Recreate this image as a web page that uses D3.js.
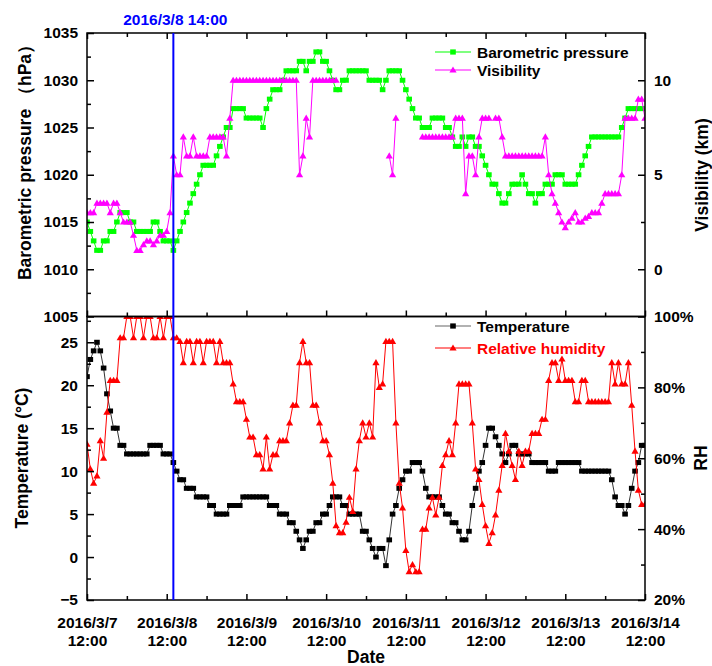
<!DOCTYPE html>
<html>
<head>
<meta charset="utf-8">
<script src="https://cdn.jsdelivr.net/npm/d3@7"></script>
<style>
  body { margin: 0; background: #fff; }
  text { font-family: "Liberation Sans", Arial, sans-serif; font-weight: bold; }
</style>
</head>
<body>
<div id="chart"></div>
<script>
// hourly readings from 2016/3/7 12:00 to 2016/3/14 12:00
const pressure = [
  1015,1014,1013,1012,1012,1013,1013,1014,1014,1015,1016,1016,
  1016,1015,1015,1014,1014,1014,1014,1014,1015,1015,1014,1013,
  1013,1013,1012,1013,1014,1015,1016,1017,1018,1019,1020,1021,
  1021,1021,1021,1022,1023,1024,1025,1025,1027,1027,1027,1027,
  1026,1026,1026,1026,1026,1025,1027,1028,1029,1029,1029,1030,
  1031,1031,1031,1031,1032,1032,1031,1032,1032,1033,1033,1032,
  1032,1031,1030,1029,1029,1030,1030,1031,1031,1031,1031,1031,
  1031,1030,1030,1030,1030,1029,1030,1031,1031,1031,1031,1030,
  1029,1028,1027,1026,1026,1025,1025,1025,1026,1026,1026,1026,
  1025,1025,1024,1023,1023,1024,1023,1024,1024,1023,1023,1022,
  1021,1020,1019,1019,1018,1017,1017,1018,1019,1019,1019,1020,
  1019,1018,1018,1017,1018,1018,1019,1019,1019,1020,1020,1020,
  1019,1019,1019,1019,1020,1021,1022,1023,1024,1024,1024,1024,
  1024,1024,1024,1024,1024,1025,1026,1027,1027,1027,1027,1027,
  1027
];

const visibility = [
  3,3,3,3.5,3.5,3.5,3.5,3,3.5,3.5,3,2.5,
  2.5,2.5,1.8,1,1,1.3,1.5,1.5,1.3,1.5,1.8,1.8,
  2,3,6,5,5,7,6,6,7,6,6,6,
  6,7,7,7,7,7,6,8,10,10,10,10,
  10,10,10,10,10,10,10,10,10,10,10,10,
  10,10,10,10,5,6,8,7,10,10,10,10,
  10,10,10,10,null,null,null,null,null,null,null,null,
  null,null,null,null,null,null,null,6,5,8,null,null,
  null,null,null,null,null,7,7,7,7,7,7,7,
  7,7,7,8,8,8,4,6,6,5,7,8,
  8,8,null,8,8,7,6,6,6,6,6,6,
  6,6,6,6,6,6,7,5,4,3.5,3,2.5,
  2.2,2.5,2.7,3,2.5,2.5,2.7,2.8,3,3,3,3.5,
  4,4,4,4,4,5,8,8,8,8,9,9,
  8
];

const temperature = [
  21,23,24,25,24,22,19,17,15,15,13,13,
  12,12,12,12,12,12,12,13,13,13,13,12,
  12,12,11,10,9,9,8,8,8,7,7,7,
  7,6,6,5,5,5,5,6,6,6,6,7,
  7,7,7,7,7,7,7,6,6,6,5,5,
  5,4,4,3,2,1,2,3,3,4,4,5,
  5,6,7,7,7,6,6,5,5,5,5,3,
  3,2,1,0,1,1,-1,2,5,6,8,9,
  10,10,11,11,11,10,8,7,7,7,7,6,
  5,5,4,4,3,2,2,3,6,8,10,11,
  13,15,15,14,13,12,11,12,13,13,12,12,
  12,12,11,11,11,11,11,10,10,10,11,11,
  11,11,11,11,11,10,10,10,10,10,10,10,
  10,10,9,7,6,6,5,6,8,10,11,13,
  13
];

const humidity = [
  64,57,53,55,65,60,73,82,82,82,94,94,
  100,100,94,100,100,94,100,100,94,94,100,94,
  100,100,94,94,93,87,93,93,87,93,93,87,
  93,93,93,87,93,87,87,87,81,76,76,76,
  71,66,66,61,61,57,66,57,61,61,65,65,
  65,70,75,75,87,93,87,87,75,75,70,65,
  65,61,53,41,39,39,42,49,45,57,65,70,
  66,70,66,87,80,81,93,93,93,70,53,46,
  34,28,30,28,28,40,40,46,49,44,49,58,
  61,65,61,70,81,81,81,81,70,57,54,47,
  41,36,39,44,51,58,67,62,58,54,62,58,
  62,62,67,67,67,71,71,82,87,87,82,88,
  82,82,82,76,76,82,82,76,76,76,76,76,
  76,76,87,81,87,81,81,87,75,62,51,47,
  47
];

const dayLabels = ["2016/3/7","2016/3/8","2016/3/9","2016/3/10","2016/3/11","2016/3/12","2016/3/13","2016/3/14"];
const hourLabel = "12:00";
const eventLabel = "2016/3/8 14:00";
const pressureTicks = [1005,1010,1015,1020,1025,1030,1035];
const visibilityTicks = [0,5,10];
const temperatureTicks = [-5,0,5,10,15,20,25];
const humidityTicks = [20,40,60,80,100];

const width = 712, height = 666;
const left = 87, right = 645, top1 = 33, mid = 316.5, bottom = 600;

const svg = d3.select("#chart").append("svg")
  .attr("width", width)
  .attr("height", height);

const start = new Date(2016, 2, 7, 12);
const end = d3.timeHour.offset(start, 168);
const times = pressure.map((d, i) => d3.timeHour.offset(start, i));
const eventTime = new Date(2016, 2, 8, 14);

const x = d3.scaleTime().domain([start, end]).range([left, right]);
const yP = d3.scaleLinear().domain([1005, 1035]).range([mid, top1]);
const yV = d3.scaleLinear().domain([-2.5, 12.5]).range([mid, top1]);
const yT = d3.scaleLinear().domain([-5, 28]).range([bottom, mid]);
const yR = d3.scaleLinear().domain([20, 100]).range([bottom, mid]);

const majorX = dayLabels.map((d, i) => d3.timeHour.offset(start, 24 * i));
const minorX = d3.range(7).map(i => d3.timeHour.offset(start, 12 + 24 * i));

const defs = svg.append("defs");
defs.append("clipPath").attr("id", "clipTop").append("rect")
  .attr("x", left).attr("y", top1).attr("width", right - left).attr("height", mid - top1);
defs.append("clipPath").attr("id", "clipBottom").append("rect")
  .attr("x", left).attr("y", mid).attr("width", right - left).attr("height", bottom - mid);

const triangle = "M0,-3.6L3.6,2.6L-3.6,2.6Z";

// ---- series
function drawSeries(values, y, clip, color, lineColor, shape) {
  const pts = values.map((v, i) => ({t: times[i], v: v}));
  const g = svg.append("g").attr("clip-path", `url(#${clip})`);
  g.append("path")
    .datum(pts)
    .attr("fill", "none")
    .attr("stroke", lineColor)
    .attr("stroke-width", 1)
    .attr("d", d3.line().defined(d => d.v != null).x(d => x(d.t)).y(d => y(d.v)));
  const valid = pts.filter(d => d.v != null);
  if (shape === "square") {
    g.selectAll("rect").data(valid).join("rect")
      .attr("x", d => x(d.t) - 2.8)
      .attr("y", d => y(d.v) - 2.5)
      .attr("width", 5.6)
      .attr("height", 5)
      .attr("fill", color);
  } else {
    g.selectAll("path.m").data(valid).join("path")
      .attr("class", "m")
      .attr("transform", d => `translate(${x(d.t)},${y(d.v)})`)
      .attr("d", triangle)
      .attr("fill", color);
  }
}

drawSeries(pressure, yP, "clipTop", "#00ff00", "#00ff00", "square");
drawSeries(visibility, yV, "clipTop", "#ff00ff", "#ff00ff", "triangle");
drawSeries(temperature, yT, "clipBottom", "#000000", "#333333", "square");
drawSeries(humidity, yR, "clipBottom", "#ff0000", "#ff0000", "triangle");

// ---- axes
function styleAxis(g) {
  g.select(".domain").remove();
  g.selectAll(".tick line").attr("stroke", "#000").attr("stroke-width", 1.5);
  g.selectAll(".tick text").attr("fill", "#000").style("font-size", "15.5px");
}

function addAxis(gen, tx, ty) {
  return svg.append("g").attr("transform", `translate(${tx},${ty})`).call(gen).call(styleAxis);
}

// x ticks (inward)
addAxis(d3.axisTop(x).tickValues(majorX).tickSizeInner(-6).tickSizeOuter(0).tickFormat(""), 0, top1);
addAxis(d3.axisTop(x).tickValues(minorX).tickSizeInner(-4).tickSizeOuter(0).tickFormat(""), 0, top1);
addAxis(d3.axisBottom(x).tickValues(majorX).tickSizeInner(-6).tickSizeOuter(0).tickFormat(""), 0, mid);
addAxis(d3.axisBottom(x).tickValues(minorX).tickSizeInner(-4).tickSizeOuter(0).tickFormat(""), 0, mid);
addAxis(d3.axisBottom(x).tickValues(minorX).tickSizeInner(-4).tickSizeOuter(0).tickFormat(""), 0, bottom);
const gx = addAxis(d3.axisBottom(x).tickValues(majorX).tickSizeInner(-6).tickSizeOuter(0)
  .tickFormat((d, i) => dayLabels[i]), 0, bottom);
gx.selectAll(".tick text").each(function(d, i) {
  const t = d3.select(this);
  t.text(null).attr("y", 28).attr("dy", null);
  t.append("tspan").attr("x", 0).text(dayLabels[i]);
  t.append("tspan").attr("x", 0).attr("dy", 18).text(hourLabel);
});

// left axes
addAxis(d3.axisLeft(yP).tickValues(pressureTicks).tickSizeInner(-7).tickSizeOuter(0).tickPadding(9)
  .tickFormat(d3.format("d")), left, 0);
addAxis(d3.axisLeft(yP).tickValues(d3.range(1007.5, 1035, 5)).tickSizeInner(-4).tickSizeOuter(0).tickFormat(""), left, 0);
addAxis(d3.axisLeft(yT).tickValues(temperatureTicks).tickSizeInner(-7).tickSizeOuter(0).tickPadding(9)
  .tickFormat(d3.format("d")), left, 0);
addAxis(d3.axisLeft(yT).tickValues(d3.range(-2.5, 28, 5)).tickSizeInner(-4).tickSizeOuter(0).tickFormat(""), left, 0);

// right axes
addAxis(d3.axisRight(yV).tickValues(visibilityTicks).tickSizeInner(-7).tickSizeOuter(0).tickPadding(9), right, 0);
addAxis(d3.axisRight(yV).tickValues([2.5, 7.5]).tickSizeInner(-4).tickSizeOuter(0).tickFormat(""), right, 0);
addAxis(d3.axisRight(yR).tickValues(humidityTicks).tickSizeInner(-7).tickSizeOuter(0).tickPadding(9)
  .tickFormat(d => d + "%"), right, 0);
addAxis(d3.axisRight(yR).tickValues([30, 50, 70, 90]).tickSizeInner(-4).tickSizeOuter(0).tickFormat(""), right, 0);

// frames
svg.append("rect").attr("x", left).attr("y", top1).attr("width", right - left).attr("height", mid - top1)
  .attr("fill", "none").attr("stroke", "#000").attr("stroke-width", 1.5);
svg.append("rect").attr("x", left).attr("y", mid).attr("width", right - left).attr("height", bottom - mid)
  .attr("fill", "none").attr("stroke", "#000").attr("stroke-width", 1.5);

// event line
svg.append("line")
  .attr("x1", x(eventTime)).attr("x2", x(eventTime))
  .attr("y1", top1).attr("y2", bottom)
  .attr("stroke", "#0000ff").attr("stroke-width", 2);
svg.append("text")
  .attr("x", x(eventTime) + 2).attr("y", 25)
  .attr("text-anchor", "middle")
  .attr("fill", "#0000ff")
  .style("font-size", "15.5px")
  .text(eventLabel);

// axis titles
function vTitle(label, cx, cy) {
  svg.append("text")
    .attr("transform", `translate(${cx},${cy}) rotate(-90)`)
    .attr("text-anchor", "middle")
    .attr("dominant-baseline", "central")
    .style("font-size", "17.5px")
    .text(label);
}
vTitle("Barometric pressure （hPa）", 25, 158);
vTitle("Temperature (°C)", 22, 458);
vTitle("Visibility (km)", 702, 175);
vTitle("RH", 701, 458);

svg.append("text")
  .attr("x", (left + right) / 2).attr("y", 663)
  .attr("text-anchor", "middle")
  .style("font-size", "17.5px")
  .text("Date");

// legends
function legendItem(label, y, lineColor, color, shape, textColor) {
  const g = svg.append("g");
  g.append("line").attr("x1", 435).attr("x2", 471).attr("y1", y).attr("y2", y)
    .attr("stroke", lineColor).attr("stroke-width", 1.2);
  if (shape === "square") {
    g.append("rect").attr("x", 450.2).attr("y", y - 2.6).attr("width", 5.6).attr("height", 5.2).attr("fill", color);
  } else {
    g.append("path").attr("transform", `translate(453,${y})`).attr("d", triangle).attr("fill", color);
  }
  g.append("text").attr("x", 477).attr("y", y + 5.5)
    .attr("fill", textColor)
    .style("font-size", "15.5px")
    .text(label);
}
legendItem("Barometric pressure", 52, "#00ff00", "#00ff00", "square", "#000");
legendItem("Visibility", 70, "#ff00ff", "#ff00ff", "triangle", "#000");
legendItem("Temperature", 326, "#666666", "#000000", "square", "#000");
legendItem("Relative humidity", 348, "#ff0000", "#ff0000", "triangle", "#ff0000");
</script>
</body>
</html>
